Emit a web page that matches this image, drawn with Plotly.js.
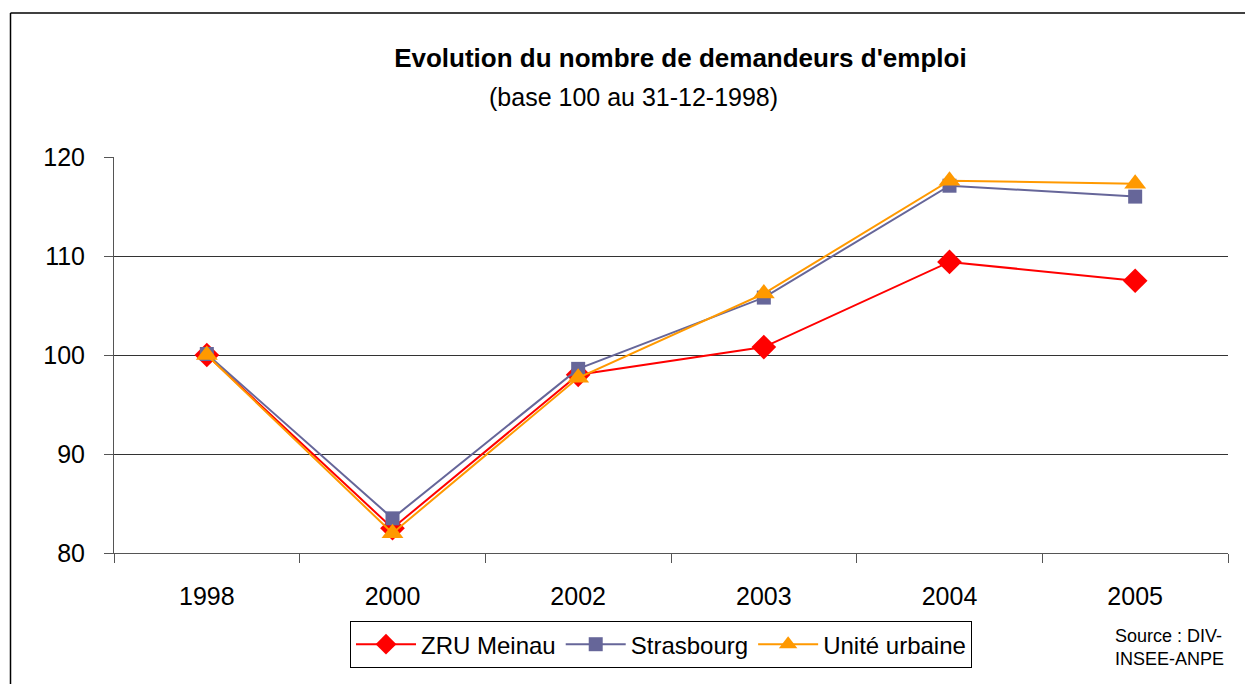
<!DOCTYPE html>
<html>
<head>
<meta charset="utf-8">
<script src="https://cdn.plot.ly/plotly-3.0.1.min.js"></script>
<style>
html,body{margin:0;padding:0;background:#fff;}
#chart{width:1245px;height:684px;}
</style>
</head>
<body>
<div id="chart"></div>
<script>
const years = ["1998", "2000", "2002", "2003", "2004", "2005"];
const zruMeinau = [100, 82.5, 98.0, 100.8, 109.4, 107.5];
const strasbourg = [100.1, 83.5, 98.6, 105.8, 117.1, 116.0];
const uniteUrbaine = [100, 82.0, 97.7, 106.2, 117.6, 117.3];
const seriesNames = ["ZRU Meinau", "Strasbourg", "Unité urbaine"];
const yTicks = [80, 90, 100, 110, 120];

const FONT = "Liberation Sans, Arial, Helvetica, sans-serif";

const traces = [
  {x: years, y: zruMeinau, name: seriesNames[0], mode: "lines+markers",
   line: {color: "#FF0000", width: 2},
   marker: {symbol: "diamond", size: 19, color: "#FF0000"}},
  {x: years, y: strasbourg, name: seriesNames[1], mode: "lines+markers",
   line: {color: "#666699", width: 2},
   marker: {symbol: "square", size: 14, color: "#666699"}},
  {x: years, y: uniteUrbaine, name: seriesNames[2], mode: "lines+markers",
   line: {color: "#FF9900", width: 2},
   marker: {symbol: "triangle-up", size: 19, color: "#FF9900"}}
];

const layout = {
  width: 1245, height: 684,
  margin: {l: 114, r: 17, t: 157, b: 131},
  paper_bgcolor: "#fff", plot_bgcolor: "#fff",
  font: {family: FONT, color: "#000"},
  showlegend: true,
  title: {
    text: "<b>Evolution du nombre de demandeurs d'emploi</b>",
    font: {family: FONT, size: 26, color: "#000"},
    x: 633/1245, xanchor: "center", xref: "paper",
    y: 1 - 58/684, yanchor: "middle", yref: "container"
  },
  xaxis: {
    type: "category",
    tickson: "boundaries",
    ticks: "outside", ticklen: 9, tickcolor: "#555", tickwidth: 1,
    showline: true, linecolor: "#555", linewidth: 1,
    showgrid: false,
    tickfont: {family: FONT, size: 25, color: "#000"},
    ticklabelstandoff: 21,
    range: [-0.5, 5.5], fixedrange: true
  },
  yaxis: {
    range: [80, 120],
    tickvals: yTicks,
    ticktext: yTicks.map(String),
    ticks: "outside", ticklen: 9, tickcolor: "#555", tickwidth: 1,
    showline: true, linecolor: "#555", linewidth: 1,
    showgrid: true, gridcolor: "#333", gridwidth: 1,
    zeroline: false,
    tickfont: {family: FONT, size: 25, color: "#000"},
    ticklabelstandoff: 14,
    fixedrange: true
  },
  legend: {
    orientation: "h",
    x: (350-114)/1114, xanchor: "left", xref: "paper",
    y: -0.172, yanchor: "top", yref: "paper",
    bgcolor: "#fff", bordercolor: "#000", borderwidth: 1,
    font: {family: FONT, size: 24, color: "#000"},
    itemwidth: 60, tracegroupgap: 0
  },
  annotations: [
    {text: "(base 100 au 31-12-1998)", xref: "paper", yref: "paper",
     x: (633-114)/1114, y: (553-97)/396, xanchor: "center", yanchor: "middle",
     showarrow: false, font: {family: FONT, size: 25, color: "#000"}},
    {text: "Source : DIV-<br>INSEE-ANPE", xref: "paper", yref: "paper",
     x: (1113-114)/1114, y: (553-624)/396, xanchor: "left", yanchor: "top",
     align: "left", showarrow: false,
     font: {family: FONT, size: 18, color: "#000"}}
  ],
  shapes: [
    {type: "line", xref: "paper", yref: "paper",
     x0: (10.5-114)/1114, x1: (10.5-114)/1114, y0: (553-13)/396, y1: -0.5,
     line: {color: "#000", width: 1.5}},
    {type: "line", xref: "paper", yref: "paper",
     x0: (10.5-114)/1114, x1: 1.1, y0: (553-13)/396, y1: (553-13)/396,
     line: {color: "#000", width: 1.5}}
  ]
};

Plotly.newPlot("chart", traces, layout, {displayModeBar: false, staticPlot: true});
</script>
</body>
</html>
